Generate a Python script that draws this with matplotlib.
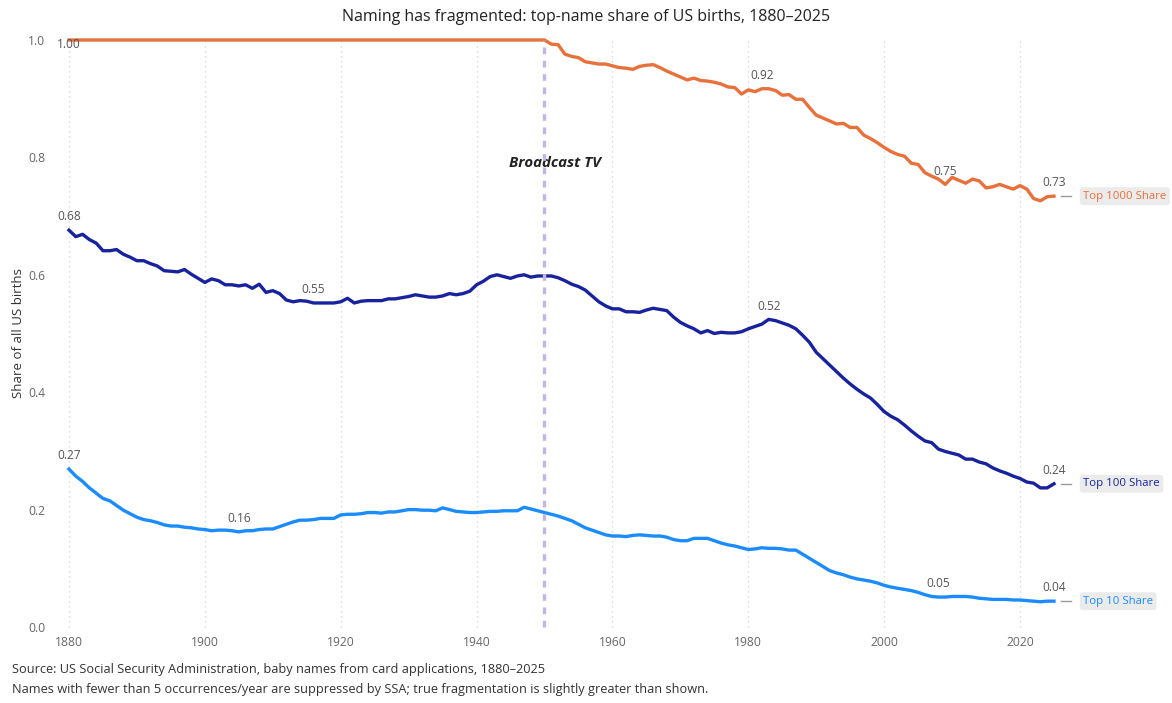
import matplotlib
matplotlib.use("Agg")
import matplotlib.pyplot as plt

plt.rcParams['font.family'] = ['Open Sans', 'DejaVu Sans']

years = list(range(1880, 2026))

top1000 = [1.00] * 71 + [
    0.993, 0.992, 0.976, 0.972, 0.970, 0.963, 0.961, 0.959, 0.959, 0.956,
    0.953, 0.952, 0.950, 0.955, 0.957, 0.958, 0.953, 0.947, 0.942, 0.937,
    0.932, 0.935, 0.931, 0.930, 0.928, 0.925, 0.920, 0.919, 0.908, 0.915,
    0.912, 0.917, 0.917, 0.914, 0.906, 0.907, 0.899, 0.899, 0.885, 0.872,
    0.867, 0.862, 0.857, 0.858, 0.851, 0.851, 0.838, 0.832, 0.825, 0.817,
    0.810, 0.805, 0.802, 0.790, 0.788, 0.774, 0.768, 0.763, 0.754, 0.766,
    0.761, 0.756, 0.763, 0.760, 0.748, 0.750, 0.754, 0.750, 0.746, 0.752,
    0.746, 0.730, 0.726, 0.733, 0.734]

top100 = [
    0.676, 0.665, 0.669, 0.660, 0.654, 0.641, 0.641, 0.643, 0.635, 0.630,
    0.624, 0.624, 0.619, 0.615, 0.607, 0.606, 0.605, 0.609, 0.601, 0.594,
    0.587, 0.593, 0.590, 0.583, 0.583, 0.581, 0.583, 0.577, 0.584, 0.570,
    0.573, 0.568, 0.557, 0.554, 0.556, 0.555, 0.552, 0.552, 0.552, 0.552,
    0.554, 0.560, 0.552, 0.555, 0.556, 0.556, 0.556, 0.559, 0.559, 0.561,
    0.563, 0.566, 0.564, 0.562, 0.562, 0.564, 0.568, 0.566, 0.568, 0.572,
    0.583, 0.589, 0.597, 0.600, 0.597, 0.594, 0.598, 0.600, 0.596, 0.598,
    0.598, 0.598, 0.595, 0.590, 0.584, 0.580, 0.574, 0.564, 0.554, 0.547,
    0.542, 0.542, 0.537, 0.537, 0.536, 0.540, 0.543, 0.541, 0.539, 0.528,
    0.519, 0.513, 0.508, 0.501, 0.505, 0.500, 0.502, 0.501, 0.501, 0.503,
    0.508, 0.512, 0.516, 0.524, 0.522, 0.518, 0.514, 0.508, 0.497, 0.485,
    0.468, 0.457, 0.446, 0.435, 0.424, 0.414, 0.405, 0.397, 0.390, 0.379,
    0.367, 0.359, 0.353, 0.344, 0.334, 0.325, 0.317, 0.314, 0.303, 0.299,
    0.296, 0.293, 0.286, 0.286, 0.281, 0.278, 0.271, 0.266, 0.262, 0.257,
    0.253, 0.247, 0.245, 0.237, 0.237, 0.244]

top10 = [
    0.269, 0.257, 0.248, 0.237, 0.228, 0.219, 0.215, 0.207, 0.199, 0.193,
    0.187, 0.183, 0.181, 0.178, 0.174, 0.172, 0.172, 0.170, 0.169, 0.167,
    0.166, 0.164, 0.165, 0.165, 0.164, 0.162, 0.164, 0.164, 0.166, 0.167,
    0.167, 0.171, 0.175, 0.179, 0.182, 0.182, 0.183, 0.185, 0.185, 0.185,
    0.191, 0.192, 0.192, 0.193, 0.195, 0.195, 0.194, 0.196, 0.196, 0.198,
    0.200, 0.200, 0.199, 0.199, 0.198, 0.203, 0.200, 0.197, 0.196, 0.195,
    0.195, 0.196, 0.197, 0.197, 0.198, 0.198, 0.198, 0.204, 0.201, 0.198,
    0.195, 0.192, 0.189, 0.185, 0.181, 0.175, 0.169, 0.165, 0.161, 0.157,
    0.155, 0.155, 0.154, 0.156, 0.157, 0.156, 0.155, 0.155, 0.153, 0.149,
    0.147, 0.147, 0.151, 0.151, 0.151, 0.147, 0.143, 0.140, 0.138, 0.135,
    0.132, 0.133, 0.135, 0.134, 0.134, 0.133, 0.131, 0.131, 0.124, 0.117,
    0.110, 0.103, 0.096, 0.092, 0.089, 0.085, 0.082, 0.080, 0.078, 0.075,
    0.071, 0.068, 0.066, 0.064, 0.062, 0.059, 0.055, 0.052, 0.051, 0.051,
    0.052, 0.052, 0.052, 0.051, 0.049, 0.048, 0.047, 0.047, 0.047, 0.046,
    0.046, 0.045, 0.044, 0.043, 0.044, 0.044]

series_names = ["Top 1000 Share", "Top 100 Share", "Top 10 Share"]
series_values = [top1000, top100, top10]
series_colors = ["#E8703A", "#18229C", "#1A8CFF"]
label_years = [[1880, 1982, 2009, 2025], [1880, 1916, 1983, 2025], [1880, 1905, 2008, 2025]]

event_year = 1950
event_label = "Broadcast TV"
x_ticks = [1880, 1900, 1920, 1940, 1960, 1980, 2000, 2020]
y_ticks = [0.0, 0.2, 0.4, 0.6, 0.8, 1.0]

title = "Naming has fragmented: top-name share of US births, 1880\u20132025"
y_label = "Share of all US births"
footer1 = "Source: US Social Security Administration, baby names from card applications, 1880\u20132025"
footer2 = "Names with fewer than 5 occurrences/year are suppressed by SSA; true fragmentation is slightly greater than shown."

W, H = 1172, 703
fig = plt.figure(figsize=(W / 100, H / 100), dpi=100)
fig.patch.set_facecolor("white")

# axes placement in pixels
ax_l, ax_r, ax_t, ax_b = 55, 1170, 37, 630
ax = fig.add_axes([ax_l / W, (H - ax_b) / H, (ax_r - ax_l) / W, (ax_b - ax_t) / H])
px_per_year = (1020 - 69) / 140.0
px_per_unit = 587.0
ax.set_xlim(1880 - (69 - ax_l) / px_per_year, 1880 + (ax_r - 69) / px_per_year)
ax.set_ylim(-(ax_b - 627) / px_per_unit, 1 + (40 - ax_t) / px_per_unit)

for s in ax.spines.values():
    s.set_visible(False)

ax.set_xticks(x_ticks)
ax.set_xticklabels([str(t) for t in x_ticks])
ax.set_yticks(y_ticks)
ax.set_yticklabels([f"{t:.1f}" for t in y_ticks])
ax.tick_params(axis="both", length=0, labelsize=8.7, labelcolor="#666666")
ax.tick_params(axis="y", pad=7)
ax.tick_params(axis="x", pad=4)
for xt in x_ticks:
    ax.plot([xt, xt], [0, 1], color="#d0d0d0", lw=0.9, ls=(0, (1, 3)), zorder=0)

ax.plot([event_year, event_year], [0, 1], color="#C3B6E6", lw=2.4, ls=(0, (2, 2)), zorder=5)
ax.text(event_year + 1.6, 0.79, event_label, ha="center", va="center",
        fontsize=10.8, fontweight="bold", fontstyle="italic", color="#222222", zorder=4)

for name, vals, col, lys in zip(series_names, series_values, series_colors, label_years):
    ax.plot(years, vals, color=col, lw=2.4, solid_joinstyle="round", zorder=3, clip_on=False)
    for ly in lys:
        v = vals[years.index(ly)]
        off = 9.5 if v < 0.98 else -3
        ax.annotate(f"{v:.2f}", (ly, v), xytext=(0, off), textcoords="offset points",
                    ha="center", va="center", fontsize=8.6, color="#555555", zorder=4)
    last = vals[-1]
    ax.plot([2026.0, 2027.5], [last, last], color="#9a9a9a", lw=1.0, clip_on=False)
    ax.text(2029.3, last, name, ha="left", va="center", fontsize=8.2, color=col,
            bbox=dict(boxstyle="round,pad=0.3,rounding_size=0.25", fc="#EBEBEB", ec="none"))

ax.set_ylabel(y_label, fontsize=9.5, color="#333333")
ax.yaxis.set_label_coords(-30 / (ax_r - ax_l), 0.5)

fig.text(0.5, 1 - 17 / H, title, ha="center", va="center", fontsize=11.5, color="#222222")
fig.text(12 / W, 1 - 670 / H, footer1, ha="left", va="center", fontsize=9.2, color="#333333")
fig.text(12 / W, 1 - 689 / H, footer2, ha="left", va="center", fontsize=9.2, color="#333333")

fig.savefig("out.png", dpi=100, facecolor="white")
